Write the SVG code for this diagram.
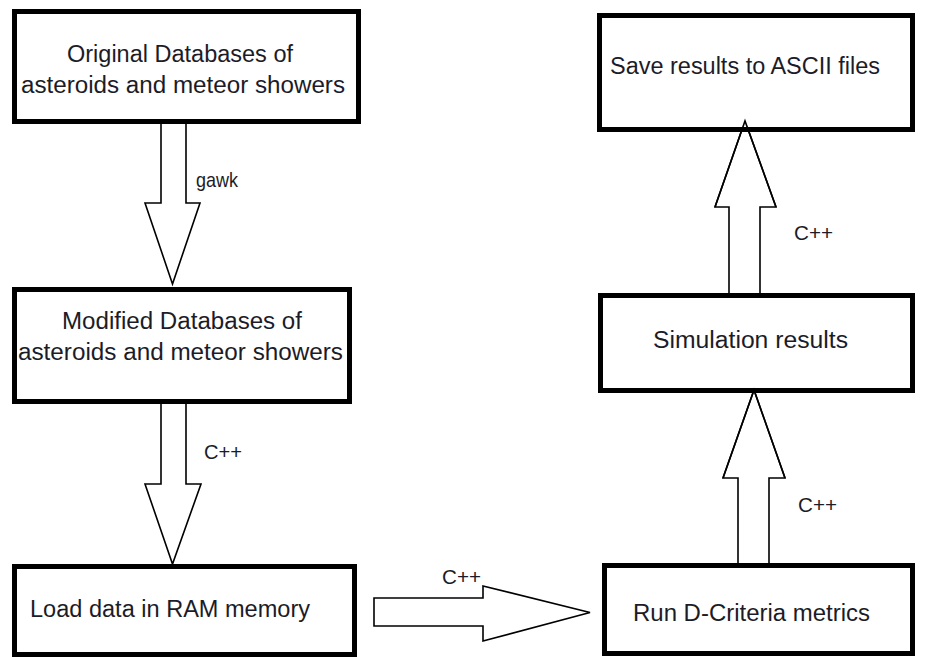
<svg xmlns="http://www.w3.org/2000/svg" width="941" height="657" viewBox="0 0 941 657">
<style>
.box{fill:#fff;stroke:#000;stroke-width:5}
.arr{fill:#fff;stroke:#000;stroke-width:1.6;stroke-linejoin:miter}
.t{font-family:"Liberation Sans",Arial,sans-serif;font-size:23.5px;fill:#1c1c28}
.l{font-family:"Liberation Sans",Arial,sans-serif;font-size:21px;fill:#1c1c28}
</style>
<rect width="941" height="657" fill="#fff"/>
<g id="connectors">
<polygon class="arr" points="161,123 161,203 145,203 172.5,284 200,203 186,203 186,123"/>
<text class="l" x="196" y="187" textLength="42" lengthAdjust="spacingAndGlyphs">gawk</text>
<polygon class="arr" points="161,403 161,484 145,484 172.5,564 201,484 186,484 186,403"/>
<text class="l" x="204" y="459" textLength="38" lengthAdjust="spacingAndGlyphs">C++</text>
<polygon class="arr" points="374,598 483,598 483,586 590,612.5 483,641 483,626 374,626"/>
<text class="l" x="442" y="584" textLength="39" lengthAdjust="spacingAndGlyphs">C++</text>
<polygon class="arr" points="738,564 738,478 723,478 754,390 785,478 769,478 769,564"/>
<text class="l" x="798" y="512" textLength="39" lengthAdjust="spacingAndGlyphs">C++</text>
<polygon class="arr" points="729,294 729,207 715,207 745,121 776,207 760,207 760,294"/>
<text class="l" x="794" y="240" textLength="39" lengthAdjust="spacingAndGlyphs">C++</text>
</g>
<g id="node-original">
<rect class="box" x="14.5" y="11.5" width="344" height="110"/>
<text class="t" x="67" y="62" textLength="226" lengthAdjust="spacingAndGlyphs">Original Databases of</text>
<text class="t" x="21" y="93" textLength="324" lengthAdjust="spacingAndGlyphs">asteroids and meteor showers</text>
</g>
<g id="node-modified">
<rect class="box" x="14.5" y="289.5" width="335" height="112"/>
<text class="t" x="62" y="329" textLength="240" lengthAdjust="spacingAndGlyphs">Modified Databases of</text>
<text class="t" x="18" y="360" textLength="325" lengthAdjust="spacingAndGlyphs">asteroids and meteor showers</text>
</g>
<g id="node-load">
<rect class="box" x="14.5" y="566.5" width="340" height="88"/>
<text class="t" x="30" y="617" textLength="280" lengthAdjust="spacingAndGlyphs">Load data in RAM memory</text>
</g>
<g id="node-run">
<rect class="box" x="604.5" y="565.5" width="308" height="88"/>
<text class="t" x="633" y="621" textLength="237" lengthAdjust="spacingAndGlyphs">Run D-Criteria metrics</text>
</g>
<g id="node-simulation">
<rect class="box" x="600.5" y="295.5" width="312" height="95"/>
<text class="t" x="653" y="348" textLength="195" lengthAdjust="spacingAndGlyphs">Simulation results</text>
</g>
<g id="node-save">
<rect class="box" x="599.5" y="15.5" width="313" height="114"/>
<text class="t" x="610" y="74" textLength="270" lengthAdjust="spacingAndGlyphs">Save results to ASCII files</text>
</g>
<g id="tips">
<polyline class="arr" points="723,478 754,390 785,478" style="fill:none"/>
<polyline class="arr" points="715,207 745,121 776,207" style="fill:none"/>
</g>
</svg>
